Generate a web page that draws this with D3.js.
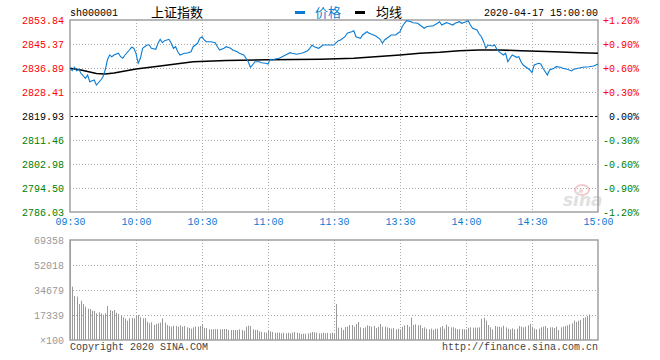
<!DOCTYPE html>
<html><head><meta charset="utf-8">
<script src="https://cdn.jsdelivr.net/npm/d3@7"></script>
<style>
html,body{margin:0;padding:0;background:#fff;}
svg text{font-family:"Liberation Mono","DejaVu Sans Mono",monospace;}
</style></head>
<body><svg id="c" width="660" height="360"></svg>
<script>
// ---------------- data ----------------
const symbol = "sh000001";
const title = "上证指数";
const dateText = "2020-04-17 15:00:00";
const prevClose = 2819.93;
const priceTicks = [2786.03, 2794.50, 2802.98, 2811.46, 2819.93, 2828.41, 2836.89, 2845.37, 2853.84];
const pctTicks = ["-1.20%", "-0.90%", "-0.60%", "-0.30%", "0.00%", "+0.30%", "+0.60%", "+0.90%", "+1.20%"];
const timeLabels = ["09:30", "10:00", "10:30", "11:00", "11:30", "13:30", "14:00", "14:30", "15:00"];
const timeLabelIdx = [0, 30, 60, 90, 120, 150, 180, 210, 240];
const volTicks = [0, 17339, 34679, 52018, 69358];
const volTickLabels = ["×100", "17339", "34679", "52018", "69358"];

// price line: trading-minute index (0..240) and price
const minuteIdx = [0,1,2,3,4,5,7,8,9,11,12,14,15,16,17,18,19,20,22,23,24,25,27,28,29,30,31,32,33,35,36,37,39,40,41,42,43,45,46,47,48,49,50,52,53,55,56,58,59,60,61,62,64,66,67,68,70,71,73,74,76,77,79,80,81,82,83,84,86,87,89,90,91,92,93,95,96,98,100,101,103,105,106,108,109,110,111,113,114,115,120,121,122,123,125,126,128,129,130,132,133,135,136,138,139,141,142,143,145,146,148,149,150,151,152,153,155,156,158,159,161,162,164,165,167,168,169,171,172,174,175,177,178,180,181,182,183,185,186,187,188,189,190,192,193,194,195,197,198,199,200,201,203,204,205,206,208,209,210,211,213,214,215,217,218,220,221,223,224,226,228,229,231,233,236,238,240];
const prices = [2836.78,2835.93,2837.13,2835.93,2836.43,2835.02,2833.25,2834.42,2832.05,2832.65,2830.88,2832.65,2833.82,2836.18,2839.71,2841.48,2840.88,2841.48,2842.08,2840.88,2840.31,2841.48,2843.24,2844.20,2843.85,2842.08,2838.55,2840.31,2843.85,2845.01,2845.01,2843.85,2843.49,2845.61,2847.02,2845.82,2846.53,2847.02,2845.61,2843.85,2844.41,2842.64,2841.48,2842.08,2842.08,2842.64,2844.41,2845.61,2847.38,2847.94,2846.78,2846.18,2846.18,2845.82,2844.41,2843.24,2843.85,2844.41,2843.85,2843.24,2842.64,2842.08,2841.48,2840.31,2839.11,2837.13,2837.95,2839.11,2839.11,2838.76,2838.55,2838.30,2839.96,2839.71,2839.96,2840.31,2840.67,2841.48,2842.29,2842.08,2841.73,2842.08,2842.29,2843.00,2843.85,2845.01,2844.41,2843.85,2844.41,2845.01,2845.01,2845.82,2846.53,2846.78,2847.94,2849.14,2849.71,2850.06,2847.94,2847.38,2848.54,2849.71,2849.14,2848.54,2848.19,2847.02,2845.61,2846.78,2847.94,2848.54,2848.54,2849.14,2849.71,2851.47,2852.67,2853.59,2853.24,2852.89,2852.67,2852.07,2850.91,2851.47,2851.72,2851.72,2852.67,2853.24,2852.07,2852.89,2852.67,2852.07,2852.67,2853.24,2852.67,2853.24,2853.59,2852.07,2850.91,2850.31,2848.90,2847.94,2846.18,2843.85,2845.01,2844.66,2845.01,2843.49,2842.64,2841.48,2842.08,2839.11,2840.31,2841.48,2840.67,2840.88,2839.11,2837.95,2836.78,2836.18,2835.23,2837.95,2838.55,2838.30,2836.78,2834.42,2836.18,2836.78,2837.35,2837.13,2836.78,2836.43,2835.83,2836.43,2836.78,2837.13,2837.35,2837.59,2838.30];

// average line
const avgIdx = [0,5,12,16,20,30,41,56,71,90,114,129,150,159,168,177,186,195,205,220,232,240];
const avgPrices = [2836.78,2836.18,2834.95,2834.77,2835.12,2836.53,2837.60,2839.11,2839.54,2839.80,2840.00,2840.31,2841.48,2842.08,2842.43,2843.00,2843.24,2843.24,2843.00,2842.64,2842.29,2842.08];

// volume per trading minute (0..240)
const volumes = [69358,
36990,30518,30056,24969,27280,24969,23119,21732,21501,20343,20114,18495,19189,18495,17570,18495,23582,20807,20114,20807,18957,18033,17108,15722,14796,13409,15028,15259,15028,16646,17340,15722,15028,15259,12715,11560,12253,10404,11097,11560,12022,15028,12022,10404,9710,9248,9941,9710,9248,10172,9248,9710,8785,8323,7860,8785,9248,9248,9710,10866,
8323,8323,7398,7398,7398,7629,7629,7398,7398,7629,7629,6936,6936,6936,6936,6936,7398,6936,6473,9248,9941,9710,7398,6936,6936,6011,5549,5318,5086,6242,6011,5549,5086,5086,5086,4624,5086,4624,5086,4624,5086,5549,5086,4624,4161,4393,4393,4624,5086,5549,5318,5086,4624,4624,5086,4624,4855,4624,5086,4600,24969,
8554,8554,6936,9017,9248,10404,10404,9248,11097,12484,8785,8323,8785,10172,9710,9248,9710,8323,9248,11097,9248,9248,8785,8323,7860,8323,7398,7860,7398,9248,10172,10404,9248,15490,10404,10866,10172,10404,8323,8785,7860,7398,7860,6936,7860,7860,8785,9710,7860,10635,9248,8785,8785,8092,7398,7629,7629,7398,7398,8323,8785,8554,8554,8554,8785,14796,15490,13409,10404,8785,7398,9710,9248,9248,8785,9941,8785,7860,7398,8092,7398,7860,9710,9248,8785,9248,10172,11097,9248,7860,7398,7860,8785,9248,9710,8323,8785,8785,8323,9248,6936,8785,9248,9710,10172,10866,11560,13409,12484,13409,13872,15259,15722,16646,17802,462,0,0,0];

// ---------------- layout ----------------
const L = 70, R = 598, PT = 20, PB = 212, VT = 240, VB = 340;
const svg = d3.select("#c");
const x = d3.scaleLinear().domain([0, 240]).range([L, R]);
const y = d3.scaleLinear().domain([priceTicks[0], priceTicks[priceTicks.length-1]]).range([PB, PT]);
const yPct = d3.scaleLinear().domain([-1.2, 1.2]).range([PB, PT]);
const yv = d3.scaleLinear().domain([0, 69358]).range([VB, VT]);

const gridCol = "#aaaaaa";
const blue = "#0a7bd2";

// price grid
const gp = svg.append("g");
gp.selectAll("line.h").data(priceTicks.filter(v => v !== prevClose && v !== priceTicks[0] && v !== priceTicks[8]))
  .join("line").attr("x1", L).attr("x2", R)
  .attr("y1", d => Math.round(y(d)) + 0.5).attr("y2", d => Math.round(y(d)) + 0.5)
  .attr("stroke", gridCol).attr("stroke-dasharray", "1,2");
gp.selectAll("line.v").data(timeLabelIdx.slice(1, 8))
  .join("line").attr("y1", PT).attr("y2", PB)
  .attr("x1", d => Math.round(x(d)) + 0.5).attr("x2", d => Math.round(x(d)) + 0.5)
  .attr("stroke", gridCol).attr("stroke-dasharray", "1,2");
gp.append("line").attr("x1", L).attr("x2", R)
  .attr("y1", Math.round(y(prevClose)) + 0.5).attr("y2", Math.round(y(prevClose)) + 0.5)
  .attr("stroke", "#000").attr("stroke-dasharray", "3,2");

// volume grid
const gv = svg.append("g");
gv.selectAll("line.h").data(volTicks.slice(1, 4))
  .join("line").attr("x1", L).attr("x2", R)
  .attr("y1", d => Math.round(yv(d)) + 0.5).attr("y2", d => Math.round(yv(d)) + 0.5)
  .attr("stroke", gridCol).attr("stroke-dasharray", "1,2");
gv.selectAll("line.v").data(timeLabelIdx.slice(1, 8))
  .join("line").attr("y1", VT).attr("y2", VB)
  .attr("x1", d => Math.round(x(d)) + 0.5).attr("x2", d => Math.round(x(d)) + 0.5)
  .attr("stroke", gridCol).attr("stroke-dasharray", "1,2");

// watermark
const wm = svg.append("g").attr("opacity", 0.55);
wm.append("ellipse").attr("cx", 582).attr("cy", 190).attr("rx", 7).attr("ry", 5)
  .attr("fill", "none").attr("stroke", "#e8a0a0").attr("stroke-width", 2);
wm.append("circle").attr("cx", 581).attr("cy", 191).attr("r", 2).attr("fill", "#e8b0b0");
wm.append("text").attr("x", 563).attr("y", 206).text("sina")
  .attr("font-family", "DejaVu Sans, sans-serif").attr("font-size", 17).attr("font-weight", "bold")
  .attr("font-style", "italic").attr("fill", "#c8c8c8").style("font-family", "DejaVu Sans, sans-serif");

// volume bars
svg.append("g").selectAll("rect").data(volumes).join("rect")
  .attr("x", (d, i) => Math.round(x(i)))
  .attr("width", 1)
  .attr("y", d => yv(d))
  .attr("height", d => VB - yv(d))
  .attr("fill", "#999");

// frames
svg.append("rect").attr("x", L).attr("y", PT).attr("width", R - L).attr("height", PB - PT)
  .attr("fill", "none").attr("stroke", "#a0a0a0").attr("stroke-width", 1.5);
svg.append("rect").attr("x", L).attr("y", VT).attr("width", R - L).attr("height", VB - VT)
  .attr("fill", "none").attr("stroke", "#a0a0a0").attr("stroke-width", 1.5);

// lines
const priceData = minuteIdx.map((m, i) => [m, prices[i]]);
const avgData = avgIdx.map((m, i) => [m, avgPrices[i]]);
svg.append("path").datum(avgData)
  .attr("d", d3.line().x(d => x(d[0])).y(d => y(d[1])))
  .attr("fill", "none").attr("stroke", "#000").attr("stroke-width", 1.6);
svg.append("path").datum(priceData)
  .attr("d", d3.line().x(d => x(d[0])).y(d => y(d[1])))
  .attr("fill", "none").attr("stroke", blue).attr("stroke-width", 1.1);

// axes
const colorFor = v => v > prevClose + 0.001 ? "#ff0000" : (v < prevClose - 0.001 ? "#008000" : "#000");
const axL = svg.append("g").attr("transform", `translate(${L - 6},0)`)
  .call(d3.axisLeft(y).tickValues(priceTicks).tickFormat(d3.format(".2f")).tickSize(0).tickPadding(0));
axL.select(".domain").remove();
axL.selectAll("text").attr("font-size", 10).attr("font-family", null)
  .attr("fill", d => colorFor(d)).attr("dy", "0.36em");

const pctVals = [-1.2, -0.9, -0.6, -0.3, 0, 0.3, 0.6, 0.9, 1.2];
const axR = svg.append("g").attr("transform", `translate(${R + 41},0)`)
  .call(d3.axisLeft(yPct).tickValues(pctVals).tickFormat((d, i) => pctTicks[i]).tickSize(0).tickPadding(0));
axR.select(".domain").remove();
axR.selectAll("text").attr("font-size", 10).attr("font-family", null)
  .attr("fill", d => d > 0 ? "#ff0000" : (d < 0 ? "#008000" : "#000")).attr("dy", "0.36em");

const axB = svg.append("g").attr("transform", `translate(0,${PB + 6})`)
  .call(d3.axisBottom(x).tickValues(timeLabelIdx).tickFormat((d, i) => timeLabels[i]).tickSize(0).tickPadding(0));
axB.select(".domain").remove();
axB.selectAll("text").attr("font-size", 10).attr("font-family", null).attr("fill", blue).attr("dy", "0.71em");

const axV = svg.append("g").attr("transform", `translate(${L - 6},0)`)
  .call(d3.axisLeft(yv).tickValues(volTicks).tickFormat((d, i) => volTickLabels[i]).tickSize(0).tickPadding(0));
axV.select(".domain").remove();
axV.selectAll("text").attr("font-size", 10).attr("font-family", null).attr("fill", "#999").attr("dy", "0.36em");

// header
svg.append("text").attr("x", L).attr("y", 16).attr("font-size", 10).attr("fill", "#000").text(symbol);
svg.append("text").attr("x", 151).attr("y", 17).attr("font-size", 13).attr("fill", "#000")
  .style("font-family", "'Noto Sans CJK SC', sans-serif").text(title);
svg.append("rect").attr("x", 295).attr("y", 11).attr("width", 10).attr("height", 3).attr("fill", blue);
svg.append("text").attr("x", 315).attr("y", 17).attr("font-size", 13).attr("fill", blue)
  .style("font-family", "'Noto Sans CJK SC', sans-serif").text("价格");
svg.append("rect").attr("x", 355).attr("y", 11).attr("width", 10).attr("height", 3).attr("fill", "#000");
svg.append("text").attr("x", 376).attr("y", 17).attr("font-size", 13).attr("fill", "#000")
  .style("font-family", "'Noto Sans CJK SC', sans-serif").text("均线");
svg.append("text").attr("x", R).attr("y", 16).attr("text-anchor", "end").attr("font-size", 10).attr("fill", "#000").text(dateText);

// footer
svg.append("text").attr("x", L).attr("y", 350).attr("font-size", 10).attr("fill", "#444").text("Copyright 2020 SINA.COM");
svg.append("text").attr("x", R).attr("y", 350).attr("text-anchor", "end").attr("font-size", 10).attr("fill", "#444").text("http://finance.sina.com.cn");
</script>
</body></html>
